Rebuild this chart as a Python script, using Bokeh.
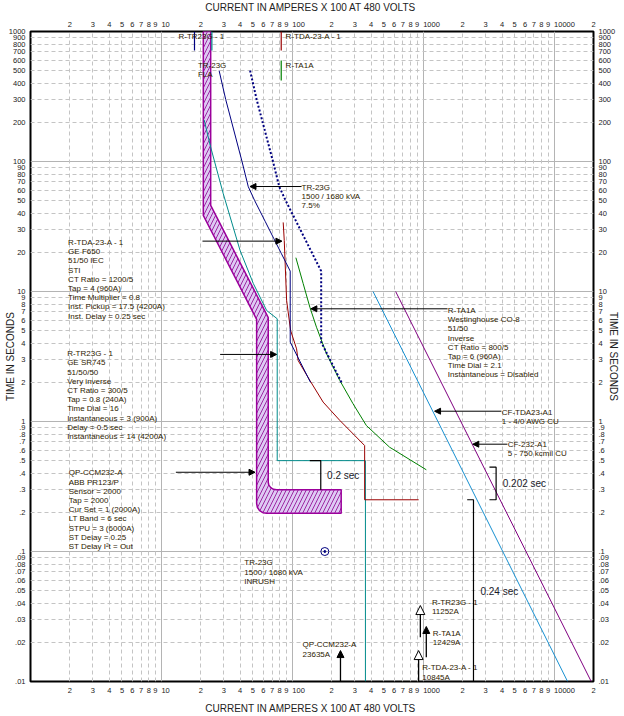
import math
from bokeh.plotting import figure
from bokeh.models import (Range1d, LogAxis, FixedTicker, Grid, Arrow, NormalHead, Label)
from bokeh.embed import file_html
from bokeh.resources import INLINE
from bokeh.core.properties import value

FONT = "Liberation Sans"
TXT = "#2e2200"

# ---------------- ticks (current in A x 100, time in s) ----------------
x_major = [1, 10, 100, 1000, 10000]
x_minor = [2, 3, 4, 5, 6, 7, 8, 9, 20, 30, 40, 50, 60, 70, 80, 90,
           200, 300, 400, 500, 600, 700, 800, 900,
           2000, 3000, 4000, 5000, 6000, 7000, 8000, 9000, 20000]
x_ticks = [2, 3, 4, 5, 6, 7, 8, 9, 10, 20, 30, 40, 50, 60, 70, 80, 90, 100,
           200, 300, 400, 500, 600, 700, 800, 900, 1000,
           2000, 3000, 4000, 5000, 6000, 7000, 8000, 9000, 10000, 20000]
x_labels = ["2", "3", "4", "5", "6", "7", "8", "9", "10",
            "2", "3", "4", "5", "6", "7", "8", "9", "100",
            "2", "3", "4", "5", "6", "7", "8", "9", "1000",
            "2", "3", "4", "5", "6", "7", "8", "9", "10000", "2"]

y_major = [0.01, 0.1, 1, 10, 100, 1000]
y_minor = [0.02, 0.03, 0.04, 0.05, 0.06, 0.07, 0.08, 0.09,
           0.2, 0.3, 0.4, 0.5, 0.6, 0.7, 0.8, 0.9,
           2, 3, 4, 5, 6, 7, 8, 9, 20, 30, 40, 50, 60, 70, 80, 90,
           200, 300, 400, 500, 600, 700, 800, 900]
y_ticks = [0.01, 0.02, 0.03, 0.04, 0.05, 0.06, 0.07, 0.08, 0.09,
           0.1, 0.2, 0.3, 0.4, 0.5, 0.6, 0.7, 0.8, 0.9,
           1, 2, 3, 4, 5, 6, 7, 8, 9, 10, 20, 30, 40, 50, 60, 70, 80, 90,
           100, 200, 300, 400, 500, 600, 700, 800, 900, 1000]
y_labels = [".01", ".02", ".03", ".04", ".05", ".06", ".07", ".08", ".09",
            ".1", ".2", ".3", ".4", ".5", ".6", ".7", ".8", ".9",
            "1", "2", "3", "4", "5", "6", "7", "8", "9",
            "10", "20", "30", "40", "50", "60", "70", "80", "90",
            "100", "200", "300", "400", "500", "600", "700", "800", "900", "1000"]

X_TITLE = "CURRENT IN AMPERES X 100 AT 480 VOLTS"
Y_TITLE = "TIME IN SECONDS"

# ---------------- device curves ----------------
# QP-CCM232-A  ABB PR123/P  (LT + ST band, cut at 23635A)
band_x = [20.9, 20.9, 53.4, 53.4, 54.1, 56.2, 59.6, 63.7, 236.35, 236.35,
          75.9, 71.8, 68.5, 66.2, 65.5, 65.5, 23.8, 23.8]
band_t = [1000, 38.5, 6.1, 0.234, 0.219, 0.206, 0.199, 0.197, 0.197, 0.298,
          0.298, 0.301, 0.31, 0.324, 0.341, 6.3, 45.9, 1000]

# R-TR23G - 1  GE SR745 (teal)
tr23g_x = [21.2, 23.8, 29.7, 39.9, 50.4, 63.7, 76.7, 76.7, 362, 362]
tr23g_t = [209, 128.8, 56.4, 20.7, 11.5, 7.14, 6.17, 0.5, 0.5, 0.01]

# R-TDA-23-A - 1  GE F650 (dark red)
tda_x = [85.2, 86.8, 90.5, 97.1, 107.8, 110.9, 136.2, 172, 230.6, 300, 357, 357, 923]
tda_t = [34.0, 24.7, 8.53, 5.01, 3.62, 2.94, 2.07, 1.41, 1.02, 0.78, 0.653, 0.25, 0.25]

# R-TA1A  Westinghouse CO-8 (green)
ta1a_x = [106.5, 121.1, 136.2, 153.1, 182.6, 230.6, 291, 368, 554, 1057]
ta1a_t = [18.2, 11.5, 7.57, 5.31, 3.32, 2.07, 1.37, 0.931, 0.634, 0.425]

# TR-23G damage curve (dotted) and shifted damage curve (solid)
dmg_x = [47.6, 53.4, 71.2, 79.5, 89, 106.9, 124.7, 142.5, 166.2, 166.2, 237.5]
dmg_t = [500, 300, 100, 64, 50, 34.7, 25.5, 19.5, 14.35, 4.08, 2.0]
dmg2_x = [27.6, 31.0, 41.3, 46.1, 51.6, 62.0, 72.3, 82.7, 96.4, 96.4, 137.8]
dmg2_t = [500, 300, 100, 64, 50, 34.7, 25.5, 19.5, 14.35, 4.08, 2.0]

# cable damage curves
cab1_x = [414, 12680]
cab1_t = [10, 0.01]
cab2_x = [616, 19210]
cab2_t = [10, 0.01]

# TR-23G inrush point
inrush_x = [177.2]
inrush_t = [0.1]

# label tick marks at top (x, t_top, t_bottom)
mark_x = [17.9, 24.3, 82.3, 82.3]
mark_t0 = [1000, 1000, 1000, 598]
mark_t1 = [714, 714, 714, 420]
mark_c = ["#000080", "#008b8b", "#990000", "#008000"]

# fault currents (x) with arrow tail/tip times
fault_x = [233.4, 951, 1056, 922.6]
fault_t0 = [0.01, 0.0219, 0.01538, 0.01]
fault_t1 = [0.0173, 0.0384, 0.0265, 0.0173]
fault_open = [False, True, False, True]

# horizontal leader arrows: (x_start, x_end, t)
lead_x0 = [117.7, 20.6, 28.1, 12.9, 1535, 3960, 4399]
lead_x1 = [47.5, 83.3, 75.9, 51.9, 138.6, 1221, 2392]
lead_t = [64.2, 24.4, 3.28, 0.407, 7.36, 1.2, 0.669]

# text blocks: x, t of first line, lines
blocks = [
    (117.7, 63.4, ["TR-23G", "1500 / 1680 kVA", "7.5%"]),
    (1.938, 23.8, ["R-TDA-23-A - 1", "GE F650", "51/50 IEC", "STI",
                   "CT Ratio = 1200/5", "Tap = 4 (960A)", "Time Multiplier = 0.8",
                   "Inst. Pickup = 17.5 (4200A)", "Inst. Delay = 0.25 sec"]),
    (1.905, 3.32, ["R-TR23G - 1", "GE SR745", "51/50/50", "Very inverse",
                   "CT Ratio = 300/5", "Tap = 0.8 (240A)", "Time Dial = 16",
                   "Instantaneous = 3 (900A)", "Delay = 0.5 sec",
                   "Instantaneous = 14 (4200A)"]),
    (1.958, 0.403, ["QP-CCM232-A", "ABB PR123/P", "Sensor = 2000", "Tap = 2000",
                    "Cur Set = 1 (2000A)", "LT Band = 6 sec", "STPU = 3 (6000A)",
                    "ST Delay = 0.25", "ST Delay I\u00b2t = Out"]),
    (1543, 7.14, ["R-TA1A", "Westinghouse CO-8", "51/50", "Inverse",
                  "CT Ratio = 800/5", "Tap = 6 (960A)", "Time Dial = 2.1",
                  "Instantaneous = Disabled"]),
    (3980, 1.179, ["CF-TDA23-A1", "1 - 4/0 AWG CU"]),
    (4422, 0.662, ["CF-232-A1", "5 - 750 kcmil CU"]),
    (43.0, 0.0818, ["TR-23G", "1500 / 1680 kVA", "INRUSH"]),
    (119.8, 0.01915, ["QP-CCM232-A", "23635A"]),
    (1165, 0.0407, ["R-TR23G - 1", "11252A"]),
    (1185, 0.0233, ["R-TA1A", "12429A"]),
    (984, 0.01274, ["R-TDA-23-A - 1", "10845A"]),
    (13.5, 915, ["R-TR23G - 1"]),
    (88.9, 915, ["R-TDA-23-A - 1"]),
    (19.0, 545, ["TR-23G", "FLA"]),
    (88.9, 545, ["R-TA1A"]),
]
LINE_PX = 9.2
PX_PER_DECADE_Y = 130.0

# ---------------- figure ----------------
p = figure(width=624, height=716, x_axis_type="log", y_axis_type="log",
           x_range=Range1d(1, 20000), y_range=Range1d(0.01, 1000),
           output_backend="svg", toolbar_location=None,
           min_border_left=30, min_border_right=31, min_border_top=31,
           min_border_bottom=35)
p.background_fill_color = "white"
p.border_fill_color = "white"
p.outline_line_color = "black"
p.outline_line_width = 2

# grids
p.xgrid.ticker = FixedTicker(ticks=x_major)
p.ygrid.ticker = FixedTicker(ticks=y_major)
for g in (p.xgrid[0], p.ygrid[0]):
    g.grid_line_color = "#b4b4b4"
    g.grid_line_width = 1
p.add_layout(Grid(dimension=0, ticker=FixedTicker(ticks=x_minor),
                  grid_line_color="#c4c4c4", grid_line_dash="4 3"))
p.add_layout(Grid(dimension=1, ticker=FixedTicker(ticks=y_minor),
                  grid_line_color="#c4c4c4", grid_line_dash="4 3"))

# axes
def pad(lbl):
    return "\u00a0" * (2 * len(lbl)) + lbl if len(lbl) > 1 else lbl

x_over = {t: pad(l) for t, l in zip(x_ticks, x_labels)}
y_over = {t: l for t, l in zip(y_ticks, y_labels)}

top_ax = LogAxis()
right_ax = LogAxis()
p.add_layout(top_ax, "above")
p.add_layout(right_ax, "right")
for ax in (p.below[0], top_ax):
    ax.ticker = FixedTicker(ticks=x_ticks)
    ax.major_label_overrides = x_over
for ax in (p.left[0], right_ax):
    ax.ticker = FixedTicker(ticks=y_ticks)
    ax.major_label_overrides = y_over
    ax.axis_label = Y_TITLE
for ax in (p.below[0], top_ax, p.left[0], right_ax):
    ax.axis_line_color = None
    ax.major_tick_line_color = None
    ax.minor_tick_line_color = None
    ax.major_tick_out = 0
    ax.major_tick_in = 0
    ax.minor_tick_out = 0
    ax.minor_tick_in = 0
    ax.major_label_text_font = FONT
    ax.major_label_text_font_size = "7.5px"
    ax.major_label_text_color = "#222222"
    ax.axis_label_text_font = FONT
    ax.axis_label_text_font_size = "10px"
    ax.axis_label_text_font_style = "normal"
    ax.axis_label_text_color = "#222222"
p.below[0].major_label_standoff = 4
top_ax.major_label_standoff = 3
p.left[0].major_label_standoff = 5
p.left[0].axis_label_standoff = -10
right_ax.major_label_standoff = 5
right_ax.axis_label_standoff = -10

# horizontal axis titles (labels in the top/bottom panels, not clipped)
for side, ly in (("above", 1543), ("below", 0.0062)):
    p.add_layout(Label(x=138.9, y=ly, text=X_TITLE, text_align="center",
                       text_baseline="middle", text_font=FONT,
                       text_font_size="10px", text_color="#222222"), side)

# breaker band
p.patch(band_x, band_t, fill_color="#dec9f4", line_color="#9b009b", line_width=1.5,
        hatch_pattern="/", hatch_color="#8b008b", hatch_scale=8, hatch_weight=0.8)

# cables
p.line(cab1_x, cab1_t, line_color="#1890d0", line_width=1)
p.line(cab2_x, cab2_t, line_color="#800080", line_width=1)

# relays / transformer
p.line(tr23g_x, tr23g_t, line_color="#008b8b", line_width=1)
p.line(ta1a_x, ta1a_t, line_color="#008000", line_width=1)
p.line(tda_x, tda_t, line_color="#990000", line_width=1)
p.line(dmg2_x, dmg2_t, line_color="#000080", line_width=1)
p.line(dmg_x, dmg_t, line_color="#000080", line_width=2, line_dash="2 2")

p.scatter(inrush_x, inrush_t, marker="circle", size=8, fill_color=None,
          line_color="#000080", line_width=1)
p.scatter(inrush_x, inrush_t, marker="circle", size=2, fill_color="#000080",
          line_color="#000080")

p.segment(x0=mark_x, y0=mark_t0, x1=mark_x, y1=mark_t1, line_color=mark_c,
          line_width=1.2)

# leader arrows
for x0, x1, t in zip(lead_x0, lead_x1, lead_t):
    p.add_layout(Arrow(end=NormalHead(size=6, fill_color="black", line_color="black"),
                       x_start=x0, y_start=t, x_end=x1, y_end=t,
                       line_color="black", line_width=1))
for fx, t0, t1, op in zip(fault_x, fault_t0, fault_t1, fault_open):
    head = (NormalHead(size=9, fill_color="white", line_color="black", line_width=1)
            if op else NormalHead(size=7, fill_color="black", line_color="black"))
    p.add_layout(Arrow(end=head, x_start=fx, y_start=t0, x_end=fx, y_end=t1,
                       line_color="black", line_width=1.3))

# time-margin brackets
p.line([136, 165, 165], [0.5, 0.5, 0.298], line_color="black", line_width=1.2)
p.line([3207, 3606, 3606, 3207], [0.445, 0.445, 0.25, 0.25], line_color="black",
       line_width=1.2)
p.line([2168, 2422, 2422], [0.25, 0.25, 0.01], line_color="black", line_width=1.2)
p.text(x=[184.5, 4051, 2738], y=[0.384, 0.335, 0.0492],
       text=["0.2 sec", "0.202 sec", "0.24 sec"], text_font=value(FONT),
       text_font_size="10px", text_baseline="middle", text_align="left",
       text_color="#1a1a2a")

# annotation texts
tx, ty, tt = [], [], []
for bx, by, lines in blocks:
    for i, s in enumerate(lines):
        tx.append(bx)
        ty.append(by * 10 ** (-i * LINE_PX / PX_PER_DECADE_Y))
        tt.append(s)
p.text(x=tx, y=ty, text=tt, text_font=value(FONT), text_font_size="8px",
       text_baseline="middle", text_align="left", text_color=TXT)

open("out.html", "w").write(file_html(p, INLINE))
